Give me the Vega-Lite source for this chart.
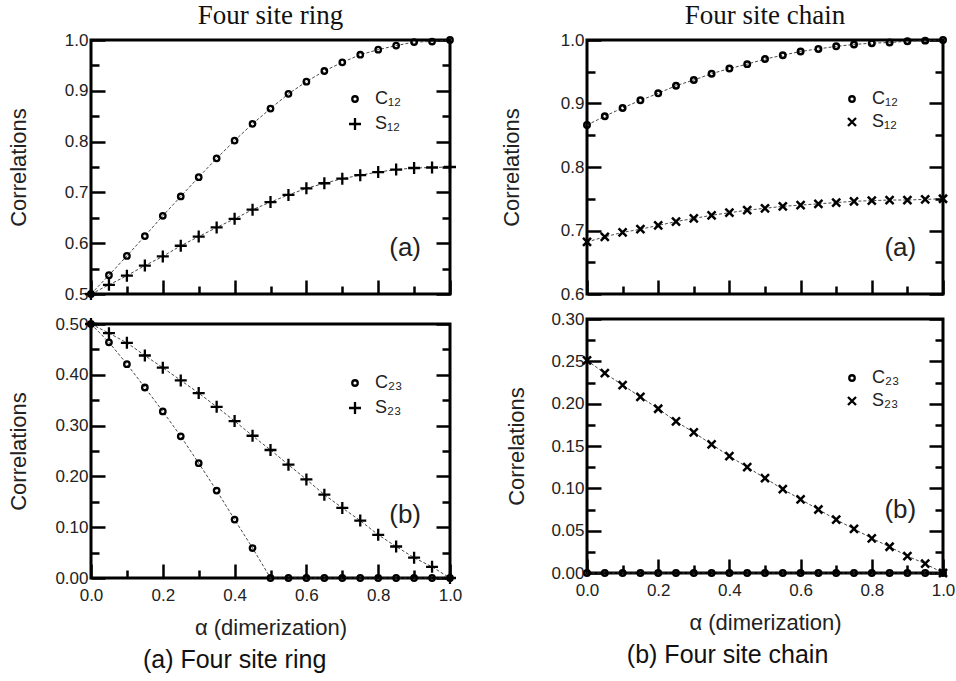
{
"$schema": "https://vega.github.io/schema/vega-lite/v6.json",
"background": "white",
"padding": {"top": 0, "left": 5, "right": 5, "bottom": 5},
"config": {
  "font": "Liberation Sans",
  "view": {"stroke": "black", "strokeWidth": 3},
  "axis": {"domain": false, "ticks": false, "gridColor": "black", "gridOpacity": 1, "gridWidth": 2.5, "labelFontSize": 17, "labelColor": "#222", "titleFontSize": 22, "titleFontWeight": "normal", "titleColor": "#222", "labelFlush": false, "labelOverlap": false},
  "legend": {"labelFontSize": 18, "labelColor": "#222", "labelOffset": 11, "rowPadding": 5, "padding": 0, "symbolStrokeWidth": 2.3, "symbolStrokeColor": "black"}
},
"datasets": {
  "ring12": [
    {"alpha":0,"series":"C₁₂","value":0.5},{"alpha":0.05,"series":"C₁₂","value":0.537},{"alpha":0.1,"series":"C₁₂","value":0.575},{"alpha":0.15,"series":"C₁₂","value":0.614},{"alpha":0.2,"series":"C₁₂","value":0.654},{"alpha":0.25,"series":"C₁₂","value":0.692},{"alpha":0.3,"series":"C₁₂","value":0.73},{"alpha":0.35,"series":"C₁₂","value":0.767},{"alpha":0.4,"series":"C₁₂","value":0.802},{"alpha":0.45,"series":"C₁₂","value":0.835},{"alpha":0.5,"series":"C₁₂","value":0.865},{"alpha":0.55,"series":"C₁₂","value":0.894},{"alpha":0.6,"series":"C₁₂","value":0.918},{"alpha":0.65,"series":"C₁₂","value":0.939},{"alpha":0.7,"series":"C₁₂","value":0.956},{"alpha":0.75,"series":"C₁₂","value":0.971},{"alpha":0.8,"series":"C₁₂","value":0.981},{"alpha":0.85,"series":"C₁₂","value":0.989},{"alpha":0.9,"series":"C₁₂","value":0.996},{"alpha":0.95,"series":"C₁₂","value":0.997},{"alpha":1,"series":"C₁₂","value":1.0},
    {"alpha":0,"series":"S₁₂","value":0.5},{"alpha":0.05,"series":"S₁₂","value":0.518},{"alpha":0.1,"series":"S₁₂","value":0.536},{"alpha":0.15,"series":"S₁₂","value":0.556},{"alpha":0.2,"series":"S₁₂","value":0.574},{"alpha":0.25,"series":"S₁₂","value":0.595},{"alpha":0.3,"series":"S₁₂","value":0.613},{"alpha":0.35,"series":"S₁₂","value":0.631},{"alpha":0.4,"series":"S₁₂","value":0.648},{"alpha":0.45,"series":"S₁₂","value":0.666},{"alpha":0.5,"series":"S₁₂","value":0.681},{"alpha":0.55,"series":"S₁₂","value":0.695},{"alpha":0.6,"series":"S₁₂","value":0.708},{"alpha":0.65,"series":"S₁₂","value":0.718},{"alpha":0.7,"series":"S₁₂","value":0.727},{"alpha":0.75,"series":"S₁₂","value":0.734},{"alpha":0.8,"series":"S₁₂","value":0.74},{"alpha":0.85,"series":"S₁₂","value":0.745},{"alpha":0.9,"series":"S₁₂","value":0.748},{"alpha":0.95,"series":"S₁₂","value":0.749},{"alpha":1,"series":"S₁₂","value":0.75}
  ],
  "ring23": [
    {"alpha":0,"series":"C₂₃","value":0.5},{"alpha":0.05,"series":"C₂₃","value":0.464},{"alpha":0.1,"series":"C₂₃","value":0.421},{"alpha":0.15,"series":"C₂₃","value":0.375},{"alpha":0.2,"series":"C₂₃","value":0.328},{"alpha":0.25,"series":"C₂₃","value":0.279},{"alpha":0.3,"series":"C₂₃","value":0.226},{"alpha":0.35,"series":"C₂₃","value":0.172},{"alpha":0.4,"series":"C₂₃","value":0.115},{"alpha":0.45,"series":"C₂₃","value":0.059},{"alpha":0.5,"series":"C₂₃","value":0},{"alpha":0.55,"series":"C₂₃","value":0},{"alpha":0.6,"series":"C₂₃","value":0},{"alpha":0.65,"series":"C₂₃","value":0},{"alpha":0.7,"series":"C₂₃","value":0},{"alpha":0.75,"series":"C₂₃","value":0},{"alpha":0.8,"series":"C₂₃","value":0},{"alpha":0.85,"series":"C₂₃","value":0},{"alpha":0.9,"series":"C₂₃","value":0},{"alpha":0.95,"series":"C₂₃","value":0},{"alpha":1,"series":"C₂₃","value":0},
    {"alpha":0,"series":"S₂₃","value":0.5},{"alpha":0.05,"series":"S₂₃","value":0.482},{"alpha":0.1,"series":"S₂₃","value":0.463},{"alpha":0.15,"series":"S₂₃","value":0.438},{"alpha":0.2,"series":"S₂₃","value":0.414},{"alpha":0.25,"series":"S₂₃","value":0.389},{"alpha":0.3,"series":"S₂₃","value":0.364},{"alpha":0.35,"series":"S₂₃","value":0.337},{"alpha":0.4,"series":"S₂₃","value":0.309},{"alpha":0.45,"series":"S₂₃","value":0.28},{"alpha":0.5,"series":"S₂₃","value":0.252},{"alpha":0.55,"series":"S₂₃","value":0.223},{"alpha":0.6,"series":"S₂₃","value":0.194},{"alpha":0.65,"series":"S₂₃","value":0.164},{"alpha":0.7,"series":"S₂₃","value":0.138},{"alpha":0.75,"series":"S₂₃","value":0.113},{"alpha":0.8,"series":"S₂₃","value":0.085},{"alpha":0.85,"series":"S₂₃","value":0.062},{"alpha":0.9,"series":"S₂₃","value":0.04},{"alpha":0.95,"series":"S₂₃","value":0.022},{"alpha":1,"series":"S₂₃","value":0}
  ],
  "chain12": [
    {"alpha":0,"series":"C₁₂","value":0.866},{"alpha":0.05,"series":"C₁₂","value":0.88},{"alpha":0.1,"series":"C₁₂","value":0.893},{"alpha":0.15,"series":"C₁₂","value":0.905},{"alpha":0.2,"series":"C₁₂","value":0.916},{"alpha":0.25,"series":"C₁₂","value":0.928},{"alpha":0.3,"series":"C₁₂","value":0.937},{"alpha":0.35,"series":"C₁₂","value":0.947},{"alpha":0.4,"series":"C₁₂","value":0.955},{"alpha":0.45,"series":"C₁₂","value":0.962},{"alpha":0.5,"series":"C₁₂","value":0.97},{"alpha":0.55,"series":"C₁₂","value":0.976},{"alpha":0.6,"series":"C₁₂","value":0.982},{"alpha":0.65,"series":"C₁₂","value":0.986},{"alpha":0.7,"series":"C₁₂","value":0.99},{"alpha":0.75,"series":"C₁₂","value":0.993},{"alpha":0.8,"series":"C₁₂","value":0.995},{"alpha":0.85,"series":"C₁₂","value":0.996},{"alpha":0.9,"series":"C₁₂","value":0.998},{"alpha":0.95,"series":"C₁₂","value":0.999},{"alpha":1,"series":"C₁₂","value":1.0},
    {"alpha":0,"series":"S₁₂","value":0.682},{"alpha":0.05,"series":"S₁₂","value":0.69},{"alpha":0.1,"series":"S₁₂","value":0.697},{"alpha":0.15,"series":"S₁₂","value":0.702},{"alpha":0.2,"series":"S₁₂","value":0.708},{"alpha":0.25,"series":"S₁₂","value":0.714},{"alpha":0.3,"series":"S₁₂","value":0.719},{"alpha":0.35,"series":"S₁₂","value":0.724},{"alpha":0.4,"series":"S₁₂","value":0.728},{"alpha":0.45,"series":"S₁₂","value":0.732},{"alpha":0.5,"series":"S₁₂","value":0.735},{"alpha":0.55,"series":"S₁₂","value":0.738},{"alpha":0.6,"series":"S₁₂","value":0.74},{"alpha":0.65,"series":"S₁₂","value":0.742},{"alpha":0.7,"series":"S₁₂","value":0.744},{"alpha":0.75,"series":"S₁₂","value":0.746},{"alpha":0.8,"series":"S₁₂","value":0.747},{"alpha":0.85,"series":"S₁₂","value":0.748},{"alpha":0.9,"series":"S₁₂","value":0.748},{"alpha":0.95,"series":"S₁₂","value":0.749},{"alpha":1,"series":"S₁₂","value":0.75}
  ],
  "chain23": [
    {"alpha":0,"series":"C₂₃","value":0},{"alpha":0.05,"series":"C₂₃","value":0},{"alpha":0.1,"series":"C₂₃","value":0},{"alpha":0.15,"series":"C₂₃","value":0},{"alpha":0.2,"series":"C₂₃","value":0},{"alpha":0.25,"series":"C₂₃","value":0},{"alpha":0.3,"series":"C₂₃","value":0},{"alpha":0.35,"series":"C₂₃","value":0},{"alpha":0.4,"series":"C₂₃","value":0},{"alpha":0.45,"series":"C₂₃","value":0},{"alpha":0.5,"series":"C₂₃","value":0},{"alpha":0.55,"series":"C₂₃","value":0},{"alpha":0.6,"series":"C₂₃","value":0},{"alpha":0.65,"series":"C₂₃","value":0},{"alpha":0.7,"series":"C₂₃","value":0},{"alpha":0.75,"series":"C₂₃","value":0},{"alpha":0.8,"series":"C₂₃","value":0},{"alpha":0.85,"series":"C₂₃","value":0},{"alpha":0.9,"series":"C₂₃","value":0},{"alpha":0.95,"series":"C₂₃","value":0},{"alpha":1,"series":"C₂₃","value":0},
    {"alpha":0,"series":"S₂₃","value":0.251},{"alpha":0.05,"series":"S₂₃","value":0.236},{"alpha":0.1,"series":"S₂₃","value":0.222},{"alpha":0.15,"series":"S₂₃","value":0.208},{"alpha":0.2,"series":"S₂₃","value":0.194},{"alpha":0.25,"series":"S₂₃","value":0.179},{"alpha":0.3,"series":"S₂₃","value":0.166},{"alpha":0.35,"series":"S₂₃","value":0.152},{"alpha":0.4,"series":"S₂₃","value":0.138},{"alpha":0.45,"series":"S₂₃","value":0.125},{"alpha":0.5,"series":"S₂₃","value":0.112},{"alpha":0.55,"series":"S₂₃","value":0.099},{"alpha":0.6,"series":"S₂₃","value":0.087},{"alpha":0.65,"series":"S₂₃","value":0.075},{"alpha":0.7,"series":"S₂₃","value":0.063},{"alpha":0.75,"series":"S₂₃","value":0.052},{"alpha":0.8,"series":"S₂₃","value":0.041},{"alpha":0.85,"series":"S₂₃","value":0.031},{"alpha":0.9,"series":"S₂₃","value":0.02},{"alpha":0.95,"series":"S₂₃","value":0.011},{"alpha":1,"series":"S₂₃","value":0}
  ]
},
"spacing": 34,
"resolve": {"scale": {"shape": "independent", "size": "independent"}, "legend": {"shape": "independent", "size": "independent"}},
"hconcat": [
 {
  "spacing": 4,
  "resolve": {"scale": {"shape": "independent", "size": "independent"}, "legend": {"shape": "independent", "size": "independent"}},
  "title": {"text": "(a) Four site ring", "orient": "bottom", "fontSize": 25, "fontWeight": "normal", "color": "#111", "offset": 8, "anchor": "middle"},
  "vconcat": [
   {
    "width": 359, "height": 254,
    "title": {"text": "Four site ring", "font": "Liberation Serif", "fontSize": 27, "fontWeight": "normal", "color": "#111", "frame": "group", "offset": 1},
    "data": {"name": "ring12"},
    "resolve": {"axis": {"x": "independent", "y": "independent"}},
    "layer": [
     {"mark": {"type": "line", "strokeDash": [3, 2], "strokeWidth": 0.9, "color": "#333"},
      "encoding": {
        "x": {"field": "alpha", "type": "quantitative", "scale": {"domain": [0, 1], "nice": false},
              "axis": {"orient": "bottom", "values": [0,0.2,0.4,0.6,0.8,1], "labels": false, "title": null, "grid": true, "gridDash": [0, 240, 14, 1000]}},
        "y": {"field": "value", "type": "quantitative", "scale": {"domain": [0.5, 1], "nice": false},
              "axis": {"orient": "left", "values": [0.5,0.6,0.7,0.8,0.9,1], "format": ".1f", "labelPadding": 3, "title": "Correlations", "titlePadding": 34, "grid": true, "gridDash": [14, 331, 14, 1000]}},
        "detail": {"field": "series"}
      }},
     {"mark": {"type": "point", "filled": false, "strokeWidth": 2.3, "color": "black", "opacity": 1},
      "encoding": {
        "x": {"field": "alpha", "type": "quantitative", "axis": {"orient": "bottom", "values": [0.1,0.3,0.5,0.7,0.9], "labels": false, "title": null, "grid": true, "gridDash": [0, 246, 8, 1000]}},
        "y": {"field": "value", "type": "quantitative", "axis": {"orient": "left", "values": [0.55,0.65,0.75,0.85,0.95], "labels": false, "title": null, "grid": true, "gridDash": [8, 343, 8, 1000]}},
        "shape": {"field": "series", "type": "nominal", "scale": {"domain": ["C₁₂", "S₁₂"], "range": ["circle", "M-1,0L1,0M0,-1L0,1"]},
                  "legend": {"title": null, "orient": "none", "legendX": 255, "legendY": 50}},
        "size": {"field": "series", "type": "nominal", "scale": {"domain": ["C₁₂", "S₁₂"], "range": [30, 144]},
                  "legend": {"title": null, "orient": "none", "legendX": 255, "legendY": 50}}
      }},
     {"data": {"values": [{}]},
      "mark": {"type": "text", "text": "(a)", "fontSize": 26, "color": "#222"},
      "encoding": {"x": {"datum": 0.875, "type": "quantitative", "axis": null},
                   "y": {"datum": 0.59, "type": "quantitative", "axis": null}}}
    ]
   },
   {
    "width": 359, "height": 254,
    "data": {"name": "ring23"},
    "resolve": {"axis": {"x": "independent", "y": "independent"}},
    "layer": [
     {"mark": {"type": "line", "strokeDash": [3, 2], "strokeWidth": 0.9, "color": "#333"},
      "encoding": {
        "x": {"field": "alpha", "type": "quantitative", "scale": {"domain": [0, 1], "nice": false},
              "axis": {"orient": "bottom", "values": [0,0.2,0.4,0.6,0.8,1], "format": ".1f", "labelPadding": 9, "title": "α (dimerization)", "titlePadding": 14, "grid": true, "gridDash": [0, 240, 14, 1000]}},
        "y": {"field": "value", "type": "quantitative", "scale": {"domain": [0, 0.5], "nice": false},
              "axis": {"orient": "left", "values": [0,0.1,0.2,0.3,0.4,0.5], "format": ".2f", "labelPadding": 3, "title": "Correlations", "titlePadding": 24, "grid": true, "gridDash": [14, 331, 14, 1000]}},
        "detail": {"field": "series"}
      }},
     {"mark": {"type": "point", "filled": false, "strokeWidth": 2.3, "color": "black", "opacity": 1},
      "encoding": {
        "x": {"field": "alpha", "type": "quantitative", "axis": {"orient": "bottom", "values": [0.1,0.3,0.5,0.7,0.9], "labels": false, "title": null, "grid": true, "gridDash": [0, 246, 8, 1000]}},
        "y": {"field": "value", "type": "quantitative", "axis": {"orient": "left", "values": [0.05,0.15,0.25,0.35,0.45], "labels": false, "title": null, "grid": true, "gridDash": [8, 343, 8, 1000]}},
        "shape": {"field": "series", "type": "nominal", "scale": {"domain": ["C₂₃", "S₂₃"], "range": ["circle", "M-1,0L1,0M0,-1L0,1"]},
                  "legend": {"title": null, "orient": "none", "legendX": 255, "legendY": 50}},
        "size": {"field": "series", "type": "nominal", "scale": {"domain": ["C₂₃", "S₂₃"], "range": [30, 144]},
                  "legend": {"title": null, "orient": "none", "legendX": 255, "legendY": 50}}
      }},
     {"data": {"values": [{}]},
      "mark": {"type": "text", "text": "(b)", "fontSize": 26, "color": "#222"},
      "encoding": {"x": {"datum": 0.875, "type": "quantitative", "axis": null},
                   "y": {"datum": 0.124, "type": "quantitative", "axis": null}}}
    ]
   }
  ]
 },
 {
  "spacing": 4,
  "resolve": {"scale": {"shape": "independent", "size": "independent"}, "legend": {"shape": "independent", "size": "independent"}},
  "title": {"text": "(b) Four site chain", "orient": "bottom", "fontSize": 25, "fontWeight": "normal", "color": "#111", "offset": 8, "anchor": "middle"},
  "vconcat": [
   {
    "width": 356, "height": 254,
    "title": {"text": "Four site chain", "font": "Liberation Serif", "fontSize": 27, "fontWeight": "normal", "color": "#111", "frame": "group", "offset": 1},
    "data": {"name": "chain12"},
    "resolve": {"axis": {"x": "independent", "y": "independent"}},
    "layer": [
     {"mark": {"type": "line", "strokeDash": [3, 2], "strokeWidth": 0.9, "color": "#333"},
      "encoding": {
        "x": {"field": "alpha", "type": "quantitative", "scale": {"domain": [0, 1], "nice": false},
              "axis": {"orient": "bottom", "values": [0,0.2,0.4,0.6,0.8,1], "labels": false, "title": null, "grid": true, "gridDash": [0, 240, 14, 1000]}},
        "y": {"field": "value", "type": "quantitative", "scale": {"domain": [0.6, 1], "nice": false},
              "axis": {"orient": "left", "values": [0.6,0.7,0.8,0.9,1], "format": ".1f", "labelPadding": 3, "title": "Correlations", "titlePadding": 37, "grid": true, "gridDash": [14, 328, 14, 1000]}},
        "detail": {"field": "series"}
      }},
     {"mark": {"type": "point", "filled": false, "strokeWidth": 2.5, "color": "black", "opacity": 1},
      "encoding": {
        "x": {"field": "alpha", "type": "quantitative", "axis": {"orient": "bottom", "values": [0.1,0.3,0.5,0.7,0.9], "labels": false, "title": null, "grid": true, "gridDash": [0, 246, 8, 1000]}},
        "y": {"field": "value", "type": "quantitative", "axis": {"orient": "left", "values": [0.65,0.75,0.85,0.95], "labels": false, "title": null, "grid": true, "gridDash": [8, 340, 8, 1000]}},
        "shape": {"field": "series", "type": "nominal", "scale": {"domain": ["C₁₂", "S₁₂"], "range": ["circle", "M-1,-1L1,1M-1,1L1,-1"]},
                  "legend": {"title": null, "orient": "none", "legendX": 256, "legendY": 50}},
        "size": {"field": "series", "type": "nominal", "scale": {"domain": ["C₁₂", "S₁₂"], "range": [30, 64]},
                  "legend": {"title": null, "orient": "none", "legendX": 256, "legendY": 50}}
      }},
     {"data": {"values": [{}]},
      "mark": {"type": "text", "text": "(a)", "fontSize": 26, "color": "#222"},
      "encoding": {"x": {"datum": 0.88, "type": "quantitative", "axis": null},
                   "y": {"datum": 0.672, "type": "quantitative", "axis": null}}}
    ]
   },
   {
    "width": 356, "height": 254,
    "data": {"name": "chain23"},
    "resolve": {"axis": {"x": "independent", "y": "independent"}},
    "layer": [
     {"mark": {"type": "line", "strokeDash": [3, 2], "strokeWidth": 0.9, "color": "#333"},
      "encoding": {
        "x": {"field": "alpha", "type": "quantitative", "scale": {"domain": [0, 1], "nice": false},
              "axis": {"orient": "bottom", "values": [0,0.2,0.4,0.6,0.8,1], "format": ".1f", "labelPadding": 9, "title": "α (dimerization)", "titlePadding": 14, "grid": true, "gridDash": [0, 240, 14, 1000]}},
        "y": {"field": "value", "type": "quantitative", "scale": {"domain": [0, 0.3], "nice": false},
              "axis": {"orient": "left", "values": [0,0.05,0.1,0.15,0.2,0.25,0.3], "format": ".2f", "labelPadding": 3, "title": "Correlations", "titlePadding": 22, "grid": true, "gridDash": [14, 328, 14, 1000]}},
        "detail": {"field": "series"}
      }},
     {"mark": {"type": "point", "filled": false, "strokeWidth": 2.5, "color": "black", "opacity": 1},
      "encoding": {
        "x": {"field": "alpha", "type": "quantitative", "axis": {"orient": "bottom", "values": [0.1,0.3,0.5,0.7,0.9], "labels": false, "title": null, "grid": true, "gridDash": [0, 246, 8, 1000]}},
        "y": {"field": "value", "type": "quantitative", "axis": {"orient": "left", "values": [0.025,0.075,0.125,0.175,0.225,0.275], "labels": false, "title": null, "grid": true, "gridDash": [8, 340, 8, 1000]}},
        "shape": {"field": "series", "type": "nominal", "scale": {"domain": ["C₂₃", "S₂₃"], "range": ["circle", "M-1,-1L1,1M-1,1L1,-1"]},
                  "legend": {"title": null, "orient": "none", "legendX": 256, "legendY": 50}},
        "size": {"field": "series", "type": "nominal", "scale": {"domain": ["C₂₃", "S₂₃"], "range": [30, 64]},
                  "legend": {"title": null, "orient": "none", "legendX": 256, "legendY": 50}}
      }},
     {"data": {"values": [{}]},
      "mark": {"type": "text", "text": "(b)", "fontSize": 26, "color": "#222"},
      "encoding": {"x": {"datum": 0.88, "type": "quantitative", "axis": null},
                   "y": {"datum": 0.074, "type": "quantitative", "axis": null}}}
    ]
   }
  ]
 }
]
}
